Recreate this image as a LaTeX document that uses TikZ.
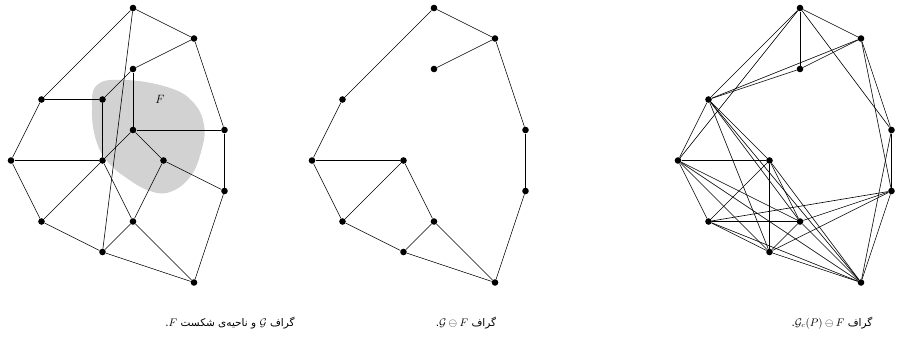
\documentclass[tikz,border=0pt]{standalone}
\usepackage{fontspec}
\newfontfamily\arabicfont[Script=Arabic]{DejaVu Sans}
\TeXXeTstate=1
\begin{document}
\begin{tikzpicture}[x=1pt,y=-1pt,
  dot/.style={circle,fill=black,inner sep=0pt,minimum size=6.6pt},
  edge/.style={line width=0.6pt},
  captxt/.style={font=\fontsize{10.5}{12}\arabicfont, inner sep=0pt}]
\useasboundingbox (0,0) rectangle (918,349);
% fault region
\fill[gray!35] plot[smooth cycle, tension=0.7] coordinates {
 (97,85) (125,80) (167,87) (192,101) (204,125) (201,152) (190,177) (170,192) (150,191) (128,179) (108,162) (96,140) (92,110)};
\node[inner sep=0pt] (lblF) at (160,99) {\fontsize{13}{15}\selectfont$F$};
% graph 1
\foreach \n/\c/\r in {A/4/0,B/6/1,C/4/2,D/1/3,E/3/3,F/4/4,G/7/4,H/0/5,I/3/5,J/5/5,K/7/6,L/1/7,M/4/7,N/3/8,O/6/9}
  \node[dot] (a\n) at ({11+30.5*\c},{8+30.5*\r}) {};
\foreach \u/\v in {A/B,A/D,A/N,B/C,B/G,C/E,C/F,D/E,D/H,E/I,F/G,F/I,F/J,G/K,H/I,H/L,I/L,I/M,J/M,J/K,K/O,L/N,M/N,M/O,N/O}
  \draw[edge] (a\u) -- (a\v);
% graph 2
\foreach \n/\c/\r in {A/4/0,B/6/1,C/4/2,D/1/3,G/7/4,H/0/5,I/3/5,K/7/6,L/1/7,M/4/7,N/3/8,O/6/9}
  \node[dot] (b\n) at ({312+30.5*\c},{8+30.5*\r}) {};
\foreach \u/\v in {A/B,A/D,B/C,B/G,G/K,K/O,D/H,H/I,H/L,I/L,I/M,M/N,M/O,L/N,N/O}
  \draw[edge] (b\u) -- (b\v);
% graph 3
\foreach \n/\c/\r in {A/4/0,B/6/1,C/4/2,D/1/3,G/7/4,H/0/5,I/3/5,K/7/6,L/1/7,M/4/7,N/3/8,O/6/9}
  \node[dot] (c\n) at ({678+30.5*\c},{8+30.5*\r}) {};
\foreach \u/\v in {A/B,A/C,A/D,A/G,A/H,B/C,B/D,B/G,B/K,C/D,D/H,D/I,D/M,D/N,D/O,G/K,G/O,H/I,H/L,H/M,H/N,H/O,I/L,I/M,I/N,I/O,K/L,K/M,K/N,K/O,L/M,L/N,L/O,M/N,M/O,N/O}
  \draw[edge] (c\u) -- (c\v);
% captions
\node[captxt] (cap1) at (230,323) {\beginR گراف \beginL$\mathcal{G}$\endL{} و ناحیه‌ی شکست \beginL$F$\endL.\endR};
\node[captxt] (cap2) at (466,323) {\beginR گراف \beginL$\mathcal{G}\ominus F$\endL.\endR};
\node[captxt] (cap3) at (832,323) {\beginR گراف \beginL$\mathcal{G}_c(P)\ominus F$\endL.\endR};
\end{tikzpicture}
\end{document}
